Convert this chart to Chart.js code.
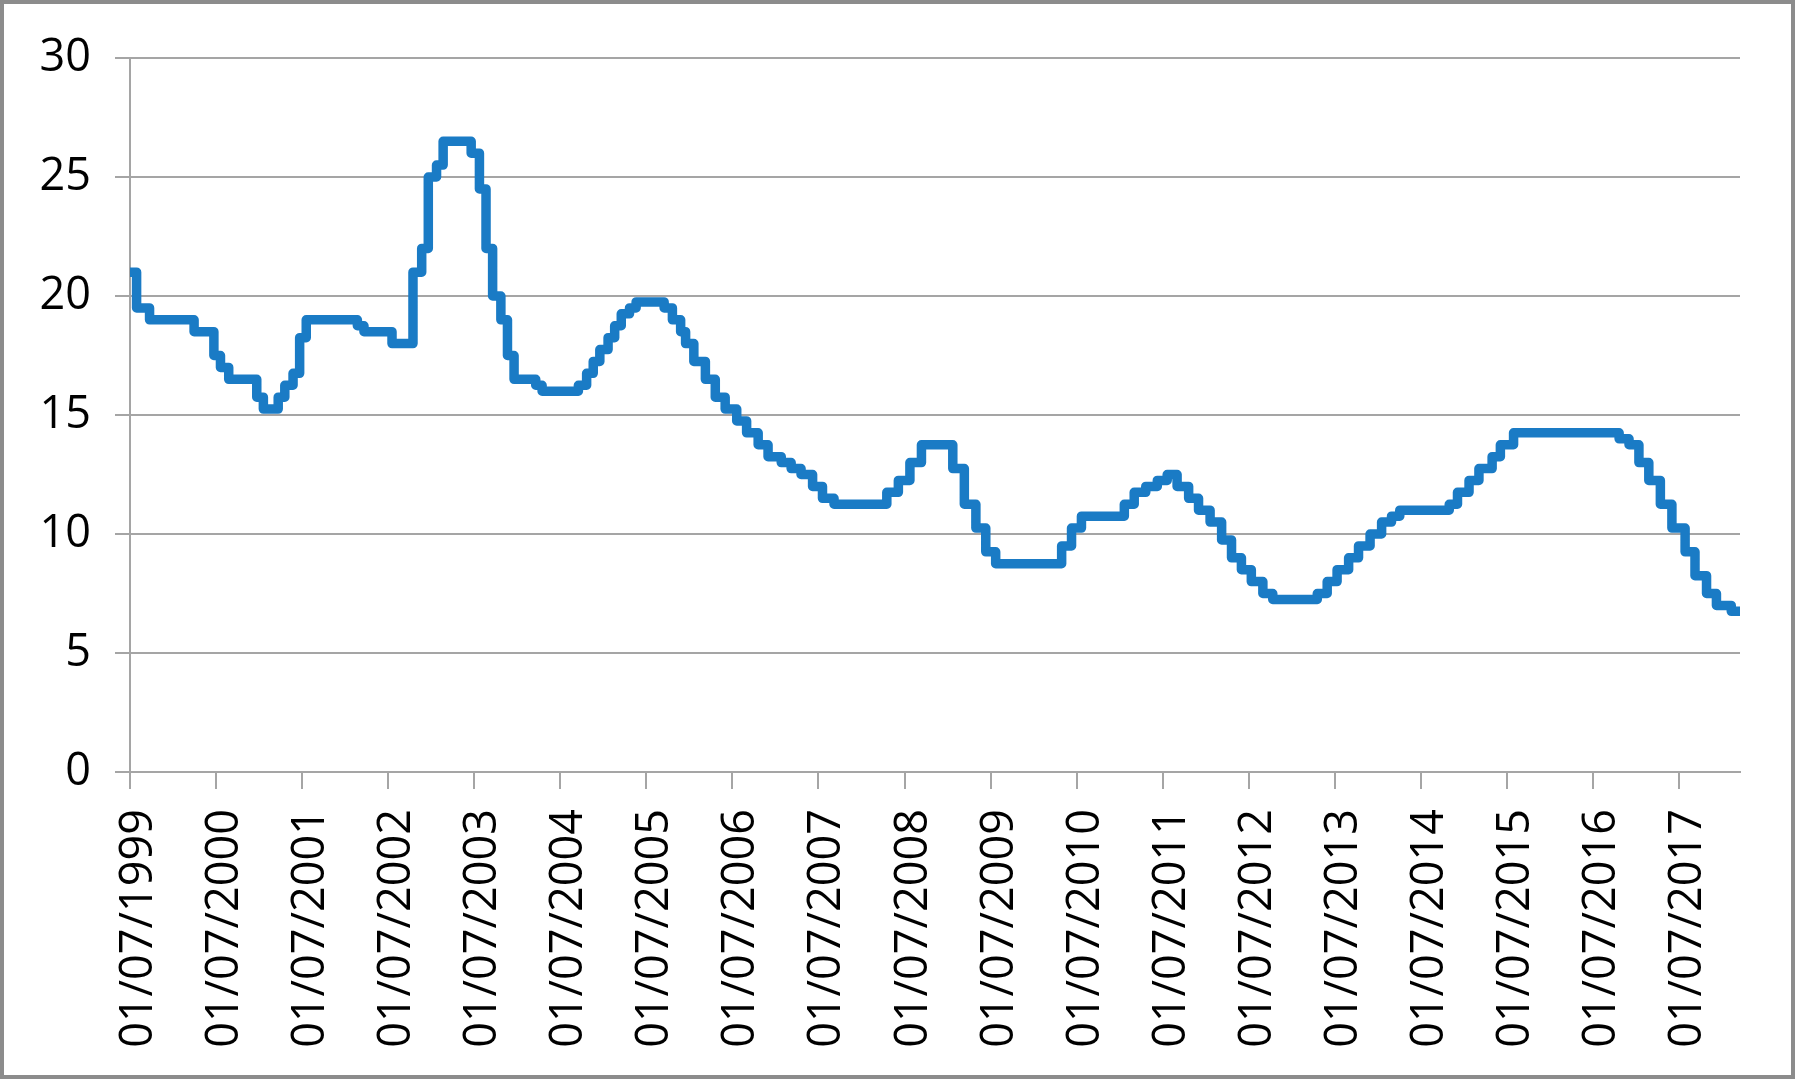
<!DOCTYPE html>
<html>
<head>
<meta charset="utf-8">
<script src="https://cdn.jsdelivr.net/npm/chart.js@4/dist/chart.umd.min.js"></script>
<style>
  html, body { margin: 0; padding: 0; background: #fff; }
  canvas { display: block; }
</style>
</head>
<body>
<canvas id="selicChart" width="1795" height="1079"></canvas>
<script>
// datas em que a taxa mudou e o novo valor (% a.a.)
const datas = [
  '1999-07-01', '1999-07-29', '1999-09-22', '2000-03-29', '2000-06-21', '2000-07-19',
  '2000-08-23', '2000-12-20', '2001-01-17', '2001-03-21', '2001-04-18', '2001-05-23',
  '2001-06-20', '2001-07-18', '2002-02-20', '2002-03-20', '2002-07-17', '2002-10-14',
  '2002-11-20', '2002-12-18', '2003-01-22', '2003-02-19', '2003-06-18', '2003-07-23',
  '2003-08-20', '2003-09-17', '2003-10-22', '2003-11-19', '2003-12-17', '2004-03-18',
  '2004-04-14', '2004-09-15', '2004-10-20', '2004-11-17', '2004-12-15', '2005-01-19',
  '2005-02-16', '2005-03-16', '2005-04-20', '2005-05-18', '2005-09-14', '2005-10-19',
  '2005-11-23', '2005-12-14', '2006-01-18', '2006-03-08', '2006-04-19', '2006-05-31',
  '2006-07-19', '2006-08-30', '2006-10-18', '2006-11-29', '2007-01-24', '2007-03-07',
  '2007-04-18', '2007-06-06', '2007-07-18', '2007-09-05', '2008-04-16', '2008-06-04',
  '2008-07-23', '2008-09-10', '2009-01-21', '2009-03-11', '2009-04-29', '2009-06-10',
  '2009-07-22', '2010-04-28', '2010-06-09', '2010-07-21', '2011-01-19', '2011-03-02',
  '2011-04-20', '2011-06-08', '2011-07-20', '2011-08-31', '2011-10-19', '2011-11-30',
  '2012-01-18', '2012-03-07', '2012-04-18', '2012-05-30', '2012-07-11', '2012-08-29',
  '2012-10-10', '2013-04-17', '2013-05-29', '2013-07-10', '2013-08-28', '2013-10-09',
  '2013-11-27', '2014-01-15', '2014-02-26', '2014-04-02', '2014-10-29', '2014-12-03',
  '2015-01-21', '2015-03-04', '2015-04-29', '2015-06-03', '2015-07-29', '2016-10-19',
  '2016-11-30', '2017-01-11', '2017-02-22', '2017-04-12', '2017-05-31', '2017-07-26',
  '2017-09-06', '2017-10-25', '2017-12-06', '2018-02-07'
];
const taxas = [
  21, 19.5, 19, 18.5, 17.5, 17,
  16.5, 15.75, 15.25, 15.75, 16.25, 16.75,
  18.25, 19, 18.75, 18.5, 18, 21,
  22, 25, 25.5, 26.5, 26, 24.5,
  22, 20, 19, 17.5, 16.5, 16.25,
  16, 16.25, 16.75, 17.25, 17.75, 18.25,
  18.75, 19.25, 19.5, 19.75, 19.5, 19,
  18.5, 18, 17.25, 16.5, 15.75, 15.25,
  14.75, 14.25, 13.75, 13.25, 13, 12.75,
  12.5, 12, 11.5, 11.25, 11.75, 12.25,
  13, 13.75, 12.75, 11.25, 10.25, 9.25,
  8.75, 9.5, 10.25, 10.75, 11.25, 11.75,
  12, 12.25, 12.5, 12, 11.5, 11,
  10.5, 9.75, 9, 8.5, 8, 7.5,
  7.25, 7.5, 8, 8.5, 9, 9.5,
  10, 10.5, 10.75, 11, 11.25, 11.75,
  12.25, 12.75, 13.25, 13.75, 14.25, 14,
  13.75, 13, 12.25, 11.25, 10.25, 9.25,
  8.25, 7.5, 7, 6.75
];
const dataFinal = '2018-03-16';
const rotulosX = [
  '01/07/1999', '01/07/2000', '01/07/2001', '01/07/2002', '01/07/2003',
  '01/07/2004', '01/07/2005', '01/07/2006', '01/07/2007', '01/07/2008',
  '01/07/2009', '01/07/2010', '01/07/2011', '01/07/2012', '01/07/2013',
  '01/07/2014', '01/07/2015', '01/07/2016', '01/07/2017'
];

const BASE = Date.UTC(1999, 6, 1);
function dias(ano, mes, dia) {
  return (Date.UTC(ano, mes - 1, dia) - BASE) / 86400000;
}
function diasISO(s) {
  const p = s.split('-').map(Number);
  return dias(p[0], p[1], p[2]);
}
function diasBR(s) {
  const p = s.split('/').map(Number);
  return dias(p[2], p[1], p[0]);
}

const pontos = datas.map((d, i) => ({ x: diasISO(d), y: taxas[i] }));
pontos.push({ x: diasISO(dataFinal), y: taxas[taxas.length - 1] });

const cinza = '#a5a5a5';
const fonte = { family: 'Open Sans', size: 45 };

// moldura cinza em volta da figura
const moldura = {
  id: 'moldura',
  afterDraw(chart) {
    const c = chart.ctx;
    c.save();
    c.strokeStyle = '#8c8c8c';
    c.lineWidth = 4;
    c.strokeRect(2, 2, chart.width - 4, chart.height - 4);
    c.restore();
  }
};

new Chart(document.getElementById('selicChart'), {
  type: 'line',
  data: {
    datasets: [{
      data: pontos,
      borderColor: '#1a7bc5',
      borderWidth: 9.5,
      borderJoinStyle: 'round',
      borderCapStyle: 'round',
      stepped: true,
      pointRadius: 0,
      fill: false
    }]
  },
  options: {
    responsive: false,
    animation: false,
    devicePixelRatio: 1,
    layout: { padding: { top: 58, right: 55, left: 0, bottom: 0 } },
    plugins: {
      legend: { display: false },
      tooltip: { enabled: false }
    },
    scales: {
      x: {
        type: 'linear',
        min: 0,
        max: diasISO(dataFinal),
        afterBuildTicks: (scale) => {
          scale.ticks = rotulosX.map(r => ({ value: diasBR(r) }));
        },
        afterFit: (scale) => { scale.height = 307; },
        ticks: {
          autoSkip: false,
          maxRotation: 90,
          minRotation: 90,
          padding: 20,
          labelOffset: 9,
          color: '#000',
          font: fonte,
          callback: (value, index) => rotulosX[index]
        },
        grid: {
          drawOnChartArea: false,
          drawTicks: true,
          tickLength: 17,
          color: cinza,
          lineWidth: 2
        },
        border: { display: true, color: cinza, width: 2 }
      },
      y: {
        min: 0,
        max: 30,
        afterFit: (scale) => { scale.width = 130; },
        ticks: {
          stepSize: 5,
          padding: 24,
          color: '#000',
          font: fonte
        },
        grid: {
          color: cinza,
          lineWidth: 2,
          tickLength: 15
        },
        border: { display: true, color: cinza, width: 2 }
      }
    }
  },
  plugins: [moldura]
});
</script>
</body>
</html>
